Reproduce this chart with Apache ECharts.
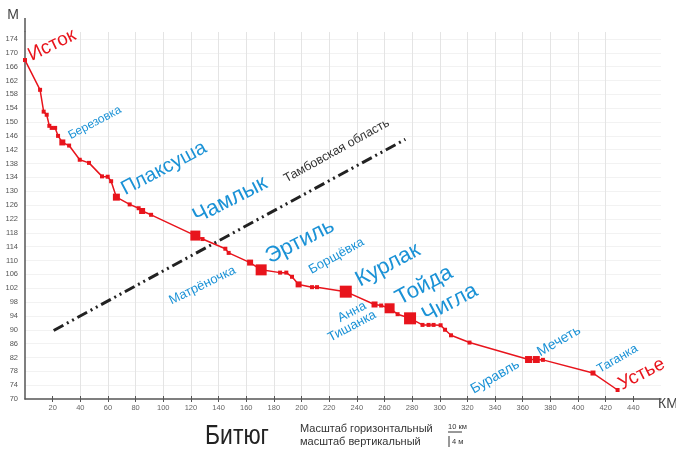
<!DOCTYPE html>
<html><head><meta charset="utf-8">
<script src="https://cdn.jsdelivr.net/npm/echarts@6/dist/echarts.min.js"></script>
<style>html,body{margin:0;padding:0;background:#fff}#c{width:676px;height:449px}</style>
</head><body><div id="c"></div>
<script>
// ---- data ----
const xTicks = [20,40,60,80,100,120,140,160,180,200,220,240,260,280,300,320,340,360,380,400,420,440];
const yTicks = [70,74,78,82,86,90,94,98,102,106,110,114,118,122,126,130,134,138,142,146,150,154,158,162,166,170,174];
const profileKm   = [0, 10.9, 13.5, 15.7, 17.6, 19.3, 21.8, 23.9, 27.0, 31.9, 39.6, 46.3, 55.7, 59.8, 62.3, 66.1, 75.7, 82.2, 84.7, 91.2, 123.2, 128.4, 144.9, 147.3, 162.8, 170.8, 184.5, 189.0, 193.1, 197.9, 207.6, 211.2, 232.0, 252.8, 257.6, 263.7, 269.5, 278.5, 287.5, 291.9, 295.5, 300.6, 303.8, 308.1, 321.5, 364.2, 369.8, 374.6, 410.8, 428.6];
const profileElev = [167.9, 159.3, 153.0, 152.1, 148.9, 148.3, 148.3, 146.0, 144.1, 143.2, 139.1, 138.2, 134.3, 134.2, 132.9, 128.3, 126.2, 125.1, 124.3, 123.2, 117.2, 116.2, 113.4, 112.2, 109.4, 107.3, 106.5, 106.5, 105.3, 103.1, 102.3, 102.3, 101.0, 97.3, 97.0, 96.2, 94.5, 93.3, 91.4, 91.4, 91.4, 91.3, 90.0, 88.4, 86.3, 81.4, 81.4, 81.3, 77.5, 72.6];
// indices of tributary mouths in the profile
const mouthIndex = [8, 15, 18, 20, 24, 25, 29, 32, 33, 35, 37, 45, 46, 48];
const borderKm = [20.75, 275.1];
const borderElev = [89.8, 145.0];
const borderName = 'Тамбовская область';
const riverName = 'Битюг';

// ---- styles ----
const mouthSize = [6, 7, 6, 10, 6, 11, 6, 12, 6, 10, 12, 7, 7, 5];
const RED = '#e8141c', BLUE = '#1b92d6';
const FONT = '"Liberation Sans", Arial, sans-serif';
// label annotations: [text, km, elev, fontSize, rotate, color]
const labels = [
  ['Исток', 19.5, 172.2, 19, 26, RED],
  ['Березовка', 50.5, 149.8, 12, 28, BLUE],
  ['Плаксуша', 100.5, 136.6, 20, 28, BLUE],
  ['Чамлык', 148.3, 127.5, 22, 27, BLUE],
  [borderName, 225.4, 141.7, 12.5, 29, '#333'],
  ['Матрёночка', 128.3, 102.8, 13, 26, BLUE],
  ['Эртиль', 198.9, 115.5, 22, 27, BLUE],
  ['Борщёвка', 225.3, 111.3, 13, 29, BLUE],
  ['Курлак', 262.5, 108.7, 22, 28, BLUE],
  ['Анна', 236.5, 95.1, 13, 28, BLUE],
  ['Тишанка', 236.5, 91.0, 13, 28, BLUE],
  ['Тойда', 288.6, 102.8, 22, 28, BLUE],
  ['Чигла', 307.4, 97.7, 22, 28, BLUE],
  ['Буравль', 340.0, 76.4, 14, 30, BLUE],
  ['Мечеть', 386.2, 86.7, 14, 30, BLUE],
  ['Таганка', 428.5, 81.6, 12.5, 30, BLUE],
  ['Устье', 446.0, 77.2, 19, 27, RED]
];

const chart = echarts.init(document.getElementById('c'), null, {renderer:'canvas'});
const profile = profileKm.map((k,i)=>[k, profileElev[i]]);
const mouths = mouthIndex.map((idx,i)=>({value:[profileKm[idx], profileElev[idx]], symbolSize: mouthSize[i]}));
const border = borderKm.map((k,i)=>[k, borderElev[i]]);
const labelData = labels.map(l=>({
  value:[l[1], l[2]],
  label:{show:true, formatter:l[0], fontSize:l[3], rotate:l[4], color:l[5], fontFamily:FONT,
         position:'inside', align:'center', verticalAlign:'middle'}
}));

chart.setOption({
  animation:false,
  backgroundColor:'#fff',
  grid:{left:25, right:15, top:32, bottom:50, containLabel:false},
  xAxis:[{
    type:'value', min:0, max:460, interval:20,
    axisLine:{show:true, onZero:false, lineStyle:{color:'#555', width:1.5}},
    axisTick:{show:true, length:3, customValues:xTicks, lineStyle:{color:'#555'}},
    axisLabel:{customValues:xTicks, fontSize:7.5, color:'#666', margin:5, fontFamily:FONT},
    splitLine:{show:true, showMinLine:false, showMaxLine:false, lineStyle:{color:'#e4e4e4'}}
  },{
    type:'value', min:0, max:460, interval:20, position:'bottom',
    axisLine:{show:false}, axisLabel:{show:false}, splitLine:{show:false},
    axisTick:{show:true, inside:true, length:3, customValues:xTicks, lineStyle:{color:'#555'}}
  }],
  yAxis:{
    type:'value', min:70, max:176,
    axisLine:{show:true, onZero:false, lineStyle:{color:'#555', width:1.5}},
    axisTick:{show:false, customValues:yTicks},
    axisLabel:{customValues:yTicks, fontSize:7.5, color:'#555', margin:7, fontFamily:FONT},
    splitLine:{show:true, showMinLine:false, lineStyle:{color:'#f2f2f2'}}
  },
  series:[
    {type:'line', data:border, showSymbol:false, silent:true, z:2,
     lineStyle:{color:'#222', width:3, type:[11,4,2,4,2,4]}},
    {type:'line', data:profile, symbol:'rect', symbolSize:4, showSymbol:true, silent:true, z:3,
     itemStyle:{color:RED, opacity:1}, lineStyle:{color:RED, width:1.5}},
    {type:'scatter', data:mouths, symbol:'rect', silent:true, z:4, itemStyle:{color:RED, opacity:1}},
    {type:'scatter', data:labelData, symbolSize:0, silent:true, z:5, itemStyle:{opacity:1}}
  ],
  graphic:[
    {type:'line', shape:{x1:25, y1:18, x2:25, y2:32}, style:{stroke:'#555', lineWidth:1.5}},
    {type:'text', x:13, y:15, style:{text:'М', font:'14px '+FONT, fill:'#444', align:'center', verticalAlign:'middle'}},
    {type:'text', x:668, y:404, style:{text:'КМ', font:'14px '+FONT, fill:'#444', align:'center', verticalAlign:'middle'}},
    {type:'text', x:237, y:437, scaleX:0.85, style:{text:riverName, font:'27px '+FONT, fill:'#222', align:'center', verticalAlign:'middle'}},
    {type:'text', x:300, y:429, style:{text:'Масштаб горизонтальный', font:'11px '+FONT, fill:'#333', align:'left', verticalAlign:'middle'}},
    {type:'text', x:300, y:442, style:{text:'масштаб вертикальный', font:'11px '+FONT, fill:'#333', align:'left', verticalAlign:'middle'}},
    {type:'text', x:448, y:427, style:{text:'10 км', font:'7.5px '+FONT, fill:'#333', align:'left', verticalAlign:'middle'}},
    {type:'line', shape:{x1:448, y1:432, x2:462, y2:432}, style:{stroke:'#333', lineWidth:1}},
    {type:'line', shape:{x1:449, y1:436, x2:449, y2:447}, style:{stroke:'#333', lineWidth:1}},
    {type:'text', x:452, y:442, style:{text:'4 м', font:'7.5px '+FONT, fill:'#333', align:'left', verticalAlign:'middle'}}
  ]
});
</script></body></html>
